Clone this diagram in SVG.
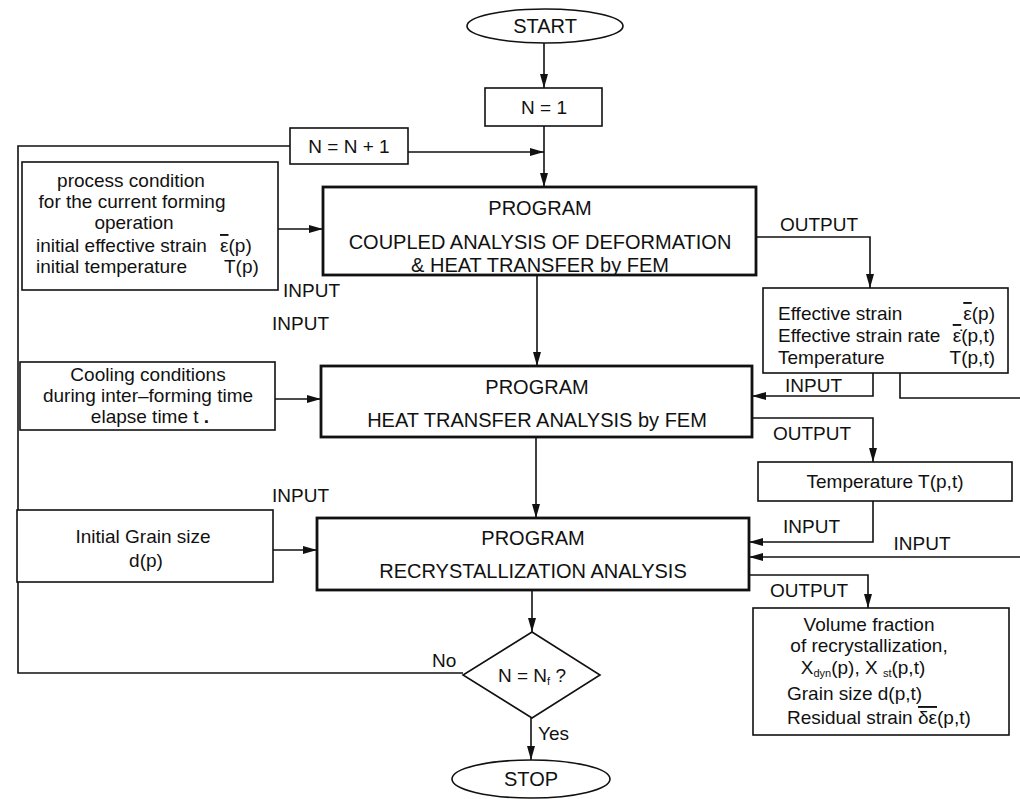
<svg xmlns="http://www.w3.org/2000/svg" width="1020" height="799" viewBox="0 0 1020 799">
<style>
text{font-family:"Liberation Sans",Arial,sans-serif;font-size:19px;fill:#111}
.t{font-size:20px}
.c{text-anchor:middle}
.r{text-anchor:end}
.box{fill:#fff;stroke:#111;stroke-width:1.6}
.prog{fill:#fff;stroke:#111;stroke-width:2.8}
.ln{fill:none;stroke:#111;stroke-width:1.6}
.ov{text-decoration:overline}
.sub{font-size:11px}
</style>
<defs>
<marker id="ah" markerUnits="userSpaceOnUse" markerWidth="14" markerHeight="8" refX="14" refY="4" orient="auto">
<path d="M0,0 L14,4 L0,8 z" fill="#111"/>
</marker>
</defs>
<rect width="1020" height="799" fill="#fff"/>

<g id="connectors">
<path class="ln" d="M544,43 V88" marker-end="url(#ah)"/>
<path class="ln" d="M544,126 V187" marker-end="url(#ah)"/>
<path class="ln" d="M408,152 H544" marker-end="url(#ah)"/>
<path class="ln" d="M463,673 H18 V146 H290"/>
<path class="ln" d="M278,229 H323" marker-end="url(#ah)"/>
<path class="ln" d="M756,237 H870 V288" marker-end="url(#ah)"/>
<path class="ln" d="M537,275 V366" marker-end="url(#ah)"/>
<path class="ln" d="M873,373 V396 H752" marker-end="url(#ah)"/>
<path class="ln" d="M900,373 V398 H1020"/>
<path class="ln" d="M275,399 H321" marker-end="url(#ah)"/>
<path class="ln" d="M752,418 H873 V462" marker-end="url(#ah)"/>
<path class="ln" d="M536,437 V518" marker-end="url(#ah)"/>
<path class="ln" d="M873,501 V542 H749" marker-end="url(#ah)"/>
<path class="ln" d="M1020,557 H749" marker-end="url(#ah)"/>
<path class="ln" d="M273,550 H317" marker-end="url(#ah)"/>
<path class="ln" d="M749,575 H868 V608" marker-end="url(#ah)"/>
<path class="ln" d="M532,590 V632" marker-end="url(#ah)"/>
<path class="ln" d="M531,718 V760" marker-end="url(#ah)"/>
<text x="283" y="297">INPUT</text>
<text x="780" y="231">OUTPUT</text>
<text x="785" y="392">INPUT</text>
<text x="272" y="330">INPUT</text>
<text x="773" y="440">OUTPUT</text>
<text x="783" y="533">INPUT</text>
<text x="922" y="550" class="c">INPUT</text>
<text x="272" y="502">INPUT</text>
<text x="770" y="597">OUTPUT</text>
<text x="432" y="667">No</text>
<text x="538" y="740">Yes</text>
</g>

<g id="start">
<ellipse cx="545" cy="26" rx="78" ry="17" class="box"/>
<text x="545" y="33" class="c t">START</text>
</g>

<g id="n1">
<rect x="485" y="88" width="117" height="38" class="box"/>
<text x="544" y="114" class="c">N = 1</text>
</g>

<g id="ninc">
<rect x="290" y="128" width="118" height="36" class="box"/>
<text x="349" y="153" class="c">N = N + 1</text>
</g>

<g id="process-condition">
<rect x="22" y="162" width="256" height="128" class="box"/>
<text x="131" y="187" class="c">process condition</text>
<text x="132" y="208" class="c">for the current forming</text>
<text x="134" y="229" class="c">operation</text>
<text x="36" y="252">initial effective strain</text>
<text x="220" y="252"><tspan class="ov">ε</tspan>(p)</text>
<text x="36" y="273">initial temperature</text>
<text x="224" y="273">T(p)</text>
</g>

<g id="program1">
<rect x="323" y="187" width="433" height="88" class="prog"/>
<text x="540" y="215" class="c t">PROGRAM</text>
<text x="540" y="249" class="c t">COUPLED ANALYSIS OF DEFORMATION</text>
<text x="540" y="272" class="c t">&amp; HEAT TRANSFER by FEM</text>
</g>

<g id="output1">
<rect x="763" y="288" width="245" height="85" class="box"/>
<text x="778" y="320">Effective strain</text>
<text x="995" y="320" class="r"><tspan class="ov">ε</tspan>(p)</text>
<text x="778" y="342">Effective strain rate</text>
<text x="995" y="342" class="r"><tspan class="ov">ε̇</tspan>(p,t)</text>
<text x="778" y="364">Temperature</text>
<text x="995" y="364" class="r">T(p,t)</text>
</g>

<g id="cooling">
<rect x="20" y="362" width="255" height="68" class="box"/>
<text x="148" y="381" class="c">Cooling conditions</text>
<text x="148" y="402" class="c">during inter–forming time</text>
<text x="150" y="423" class="c">elapse time t<tspan font-weight="bold"> .</tspan></text>
</g>

<g id="program2">
<rect x="321" y="366" width="431" height="71" class="prog"/>
<text x="537" y="394" class="c t">PROGRAM</text>
<text x="537" y="427" class="c t">HEAT TRANSFER ANALYSIS by FEM</text>
</g>

<g id="temperature">
<rect x="758" y="462" width="254" height="39" class="box"/>
<text x="885" y="488" class="c">Temperature T(p,t)</text>
</g>

<g id="grain">
<rect x="17" y="510" width="256" height="72" class="box"/>
<text x="143" y="543" class="c">Initial Grain size</text>
<text x="146" y="567" class="c">d(p)</text>
</g>

<g id="program3">
<rect x="317" y="518" width="432" height="72" class="prog"/>
<text x="533" y="545" class="c t">PROGRAM</text>
<text x="533" y="578" class="c t">RECRYSTALLIZATION ANALYSIS</text>
</g>

<g id="output3">
<rect x="753" y="608" width="256" height="127" class="box"/>
<text x="869" y="631" class="c">Volume fraction</text>
<text x="869" y="652" class="c">of recrystallization,</text>
<text x="863" y="674" class="c">X<tspan class="sub" dy="3">dyn</tspan><tspan dy="-3">(p), X </tspan><tspan class="sub" dy="3">st</tspan><tspan dy="-3">(p,t)</tspan></text>
<text x="787" y="700">Grain size d(p,t)</text>
<text x="787" y="724">Residual strain <tspan class="ov">δε</tspan>(p,t)</text>
</g>

<g id="decision">
<polygon points="532,632 600,675 532,718 463,675" class="box"/>
<text x="532" y="682" class="c">N = N<tspan class="sub" dy="3">f</tspan><tspan dy="-3"> ?</tspan></text>
</g>

<g id="stop">
<ellipse cx="531" cy="779" rx="79" ry="19" class="box"/>
<text x="531" y="786" class="c t">STOP</text>
</g>
</svg>
